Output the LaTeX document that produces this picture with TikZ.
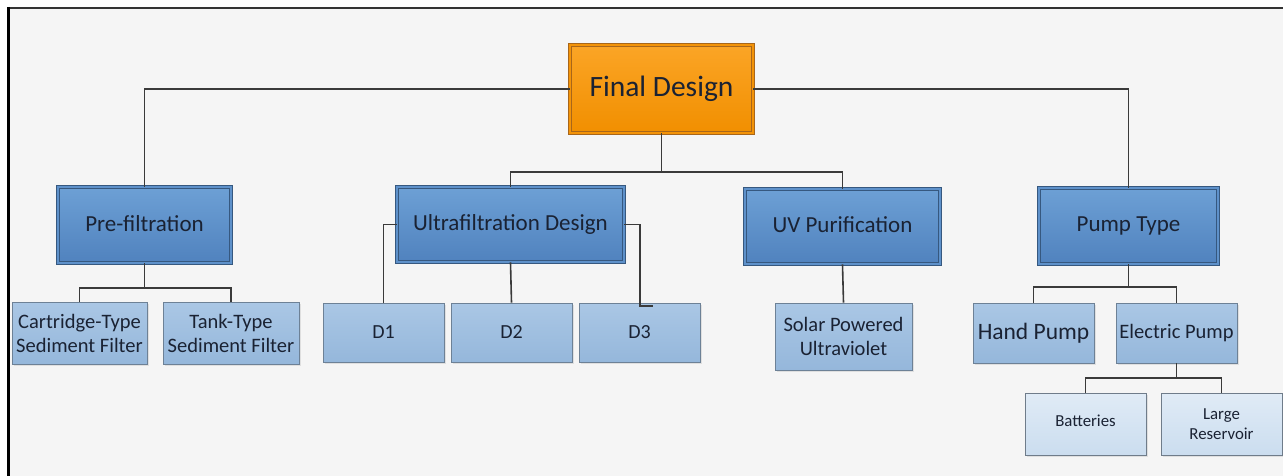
\documentclass[tikz,border=0pt]{standalone}
\usepackage{fontspec}
\setmainfont{Carlito}
\usetikzlibrary{shadows}
\definecolor{txt}{HTML}{1A2233}
\definecolor{linec}{HTML}{3A3A3A}
\definecolor{orgT}{HTML}{FBA526}
\definecolor{orgB}{HTML}{F18F00}
\definecolor{orgL}{HTML}{A8661A}
\definecolor{blT}{HTML}{6DA0D5}
\definecolor{blB}{HTML}{5082BE}
\definecolor{blM}{HTML}{5E91CA}
\definecolor{blL}{HTML}{36587F}
\definecolor{l2T}{HTML}{AAC7E5}
\definecolor{l2B}{HTML}{95B7DB}
\definecolor{l2L}{HTML}{6D8196}
\definecolor{l3T}{HTML}{E0EBF6}
\definecolor{l3B}{HTML}{CBDDEF}
\definecolor{l3L}{HTML}{6F7C8A}
\definecolor{bg}{HTML}{F5F5F5}
\tikzset{
  every node/.style={text=txt, inner sep=0pt, align=center},
  shd/.style={drop shadow={opacity=0.18, shadow xshift=2pt, shadow yshift=-2pt}},
  rootbox/.style={shd, top color=orgT, bottom color=orgB, draw=orgL, line width=0.9pt, double=orgB!80!orgT, double distance=1.8pt},
  mainbox/.style={shd, top color=blT, bottom color=blB, draw=blL, line width=0.9pt, double=blM, double distance=1.8pt},
  subbox/.style={shd, top color=l2T, bottom color=l2B, draw=l2L, line width=0.8pt},
  leafbox/.style={shd, top color=l3T, bottom color=l3B, draw=l3L, line width=0.8pt},
  conn/.style={draw=linec, line width=1.6pt},
  fA/.style={font=\fontsize{29.5}{33}\selectfont},
  fB/.style={font=\fontsize{23}{26}\selectfont},
  fC/.style={font=\fontsize{20.5}{24}\selectfont},
  fD/.style={font=\fontsize{20}{23}\selectfont},
  fE/.style={font=\fontsize{16.8}{20.5}\selectfont}
}
\begin{document}
\begin{tikzpicture}[x=1pt,y=-1pt]
\useasboundingbox (0,0) rectangle (1283,476);
\fill[white] (0,0) rectangle (1283,476);
\fill[bg] (8,8) rectangle (1283,476);
\draw[line width=2pt, black!80] (8,8) -- (1283,8);
\draw[line width=3pt, black] (8,7) -- (8,476);

% nodes
\node[rootbox, fA, minimum width=183, minimum height=88] (fd) at (661.5,89) {Final Design};
\node[mainbox, fB, minimum width=173, minimum height=76] (pre) at (144.5,225) {\raisebox{3pt}{Pre-filtration}};
\node[mainbox, fB, minimum width=227, minimum height=75] (ultra) at (510.5,224.5) {\raisebox{3pt}{Ultrafiltration Design}};
\node[mainbox, fB, minimum width=195, minimum height=75] (uv) at (842.5,226.5) {\raisebox{3pt}{UV Purification}};
\node[mainbox, fB, minimum width=179, minimum height=76] (pump) at (1128.5,226) {\raisebox{3pt}{Pump Type}};

\node[subbox, fC, minimum width=135, minimum height=62] (cart) at (79.5,333) {Cartridge-Type\\Sediment Filter};
\node[subbox, fC, minimum width=136, minimum height=62] (tank) at (231,333) {Tank-Type\\Sediment Filter};
\node[subbox, fD, minimum width=121, minimum height=59] (d1) at (383.5,332.5) {D1};
\node[subbox, fD, minimum width=121, minimum height=59] (d2) at (511.5,332.5) {D2};
\node[subbox, fD, minimum width=121, minimum height=59] (d3) at (639.5,332.5) {D3};
\node[subbox, fC, minimum width=137, minimum height=67] (solar) at (843.5,336.5) {Solar Powered\\Ultraviolet};
\node[subbox, font=\fontsize{23.5}{27}\selectfont, minimum width=121, minimum height=60] (hand) at (1033.5,333) {Hand Pump};
\node[subbox, fC, minimum width=121, minimum height=60] (elec) at (1176.5,333) {\raisebox{3pt}{Electric Pump}};
\node[leafbox, fE, minimum width=121, minimum height=62] (bat) at (1085.5,424) {\raisebox{6pt}{Batteries}};
\node[leafbox, fE, minimum width=121, minimum height=62] (res) at (1221.5,424) {Large\\Reservoir};

% connectors
\draw[conn] (fd.west) -| (pre.north);
\draw[conn] (fd.east) -| (pump.north);
\coordinate (fdj) at (fd.south |- 0,172);
\draw[conn] (fd.south) -- (fdj) -| (ultra.north);
\draw[conn] (fdj) -| (uv.north);

\coordinate (prej) at (pre.south |- 0,288);
\draw[conn] (pre.south) -- (prej) -| (cart.north);
\draw[conn] (prej) -| (tank.north);

\draw[conn] (ultra.west) -| (d1.north);
\draw[conn] (ultra.south) -- (d2.north);
\coordinate (d3end) at (653,306);
\draw[conn] (ultra.east) -| (640,306) -- (d3end);

\draw[conn] (uv.south) -- (solar.north);

\coordinate (pumpj) at (pump.south |- 0,287);
\draw[conn] (pump.south) -- (pumpj) -| (hand.north);
\draw[conn] (pumpj) -| (elec.north);

\coordinate (elecj) at (elec.south |- 0,378);
\draw[conn] (elec.south) -- (elecj) -| (bat.north);
\draw[conn] (elecj) -| (res.north);
\end{tikzpicture}
\end{document}
